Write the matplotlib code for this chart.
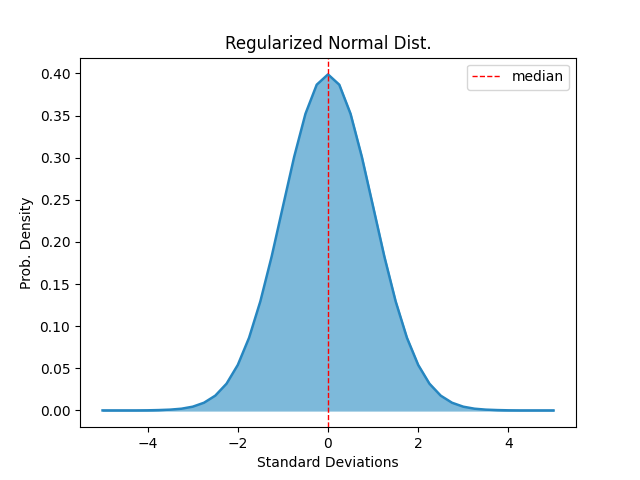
import matplotlib
matplotlib.use("Agg")
import matplotlib.pyplot as plt

x_vals = [-5.0, -4.75, -4.5, -4.25, -4.0, -3.75, -3.5, -3.25, -3.0, -2.75, -2.5, -2.25, -2.0, -1.75, -1.5, -1.25, -1.0, -0.75, -0.5, -0.25,
          0.0, 0.25, 0.5, 0.75, 1.0, 1.25, 1.5, 1.75, 2.0, 2.25, 2.5, 2.75, 3.0, 3.25, 3.5, 3.75, 4.0, 4.25, 4.5, 4.75, 5.0]
density = [0.0000, 0.0000, 0.0000, 0.0000, 0.0001, 0.0004, 0.0009, 0.0020, 0.0044, 0.0091, 0.0175, 0.0317, 0.0540, 0.0863, 0.1295, 0.1826, 0.2420, 0.3011, 0.3521, 0.3867,
           0.3989, 0.3867, 0.3521, 0.3011, 0.2420, 0.1826, 0.1295, 0.0863, 0.0540, 0.0317, 0.0175, 0.0091, 0.0044, 0.0020, 0.0009, 0.0004, 0.0001, 0.0000, 0.0000, 0.0000, 0.0000]
median = 0.0

fig, ax = plt.subplots(figsize=(6.4, 4.8), dpi=100)
ax.fill_between(x_vals, density, color="#7db9da")
ax.plot(x_vals, density, color="#2686c0", lw=1.8)
ax.axvline(median, color="red", ls="--", lw=1, label="median")
ax.set_title("Regularized Normal Dist.")
ax.set_xlabel("Standard Deviations")
ax.set_ylabel("Prob. Density")
ax.set_yticks([0.0, 0.05, 0.10, 0.15, 0.20, 0.25, 0.30, 0.35, 0.40])
ax.legend(loc="upper right")
fig.savefig("out.png")
